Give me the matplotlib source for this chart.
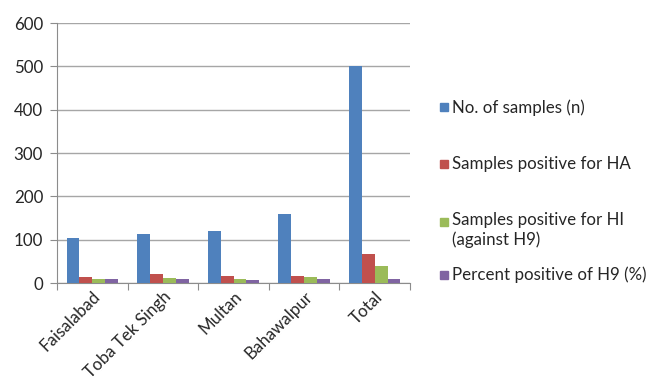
import matplotlib.pyplot as plt
import numpy as np
from matplotlib.patches import Rectangle

plt.rcParams['font.family'] = ['Lato', 'DejaVu Sans']

regions = ['Faisalabad', 'Toba Tek Singh', 'Multan', 'Bahawalpur', 'Total']
n_samples = [105, 113, 121, 160, 500]
pos_ha = [13, 21, 16, 16, 67]
pos_hi = [9, 11, 9, 14, 40]
pct_h9 = [8.5, 9, 6, 9, 9]

labels = ['No. of samples (n)', 'Samples positive for HA',
          'Samples positive for HI\n(against H9)', 'Percent positive of H9 (%)']
colors = ['#4F81BD', '#C0504D', '#9BBB59', '#8064A2']
series = [n_samples, pos_ha, pos_hi, pct_h9]

fig = plt.figure(figsize=(6.5, 3.85), dpi=100)
ax = fig.add_axes([57/650, 1 - 283/385, 353/650, 260/385])

x = np.arange(len(regions))
w = 1 / 5.5
for i, (vals, c) in enumerate(zip(series, colors)):
    ax.bar(x + (i - 1.5) * w, vals, w, color=c, zorder=3)

ax.set_xlim(-0.5, len(regions) - 0.5)
ax.set_ylim(0, 600)
ax.set_yticks(range(0, 601, 100))
ax.grid(axis='y', color='#a6a6a6', linewidth=1, zorder=0)

fs = 12.2
# category ticks between groups, labels at centres
ax.set_xticks(np.arange(-0.5, len(regions)), minor=False)
ax.set_xticklabels([])
ax.set_xticks(x, minor=True)
ax.set_xticklabels(regions, minor=True, rotation=45, ha='right',
                   rotation_mode='anchor', fontsize=fs, color='#262626')
ax.tick_params(axis='x', which='minor', length=0, pad=4)
ax.tick_params(axis='x', which='major', length=5, color='#8c8c8c')
ax.tick_params(axis='y', length=5, color='#8c8c8c', labelsize=fs,
               labelcolor='#262626', pad=5)

for s in ['top', 'right']:
    ax.spines[s].set_visible(False)
ax.spines['left'].set_color('#8c8c8c')
ax.spines['bottom'].set_color('#8c8c8c')

# legend drawn by hand
marker_y = [107, 164, 222, 275]
text_y = [108, 164, 230, 275]
for lab, c, my, ty in zip(labels, colors, marker_y, text_y):
    fig.patches.append(Rectangle((440/650, 1 - (my + 4)/385), 8/650, 8/385,
                                 transform=fig.transFigure, color=c))
    fig.text(452/650, 1 - ty/385, lab, fontsize=fs, color='#262626',
             va='center', linespacing=1.3, transform=fig.transFigure)

fig.savefig('out.png', dpi=100)
